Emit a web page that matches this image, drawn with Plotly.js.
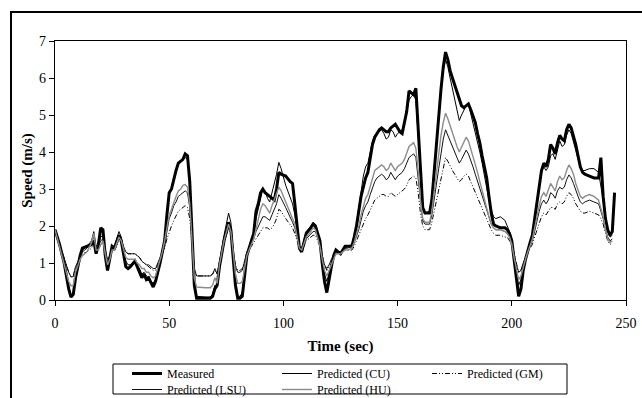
<!DOCTYPE html>
<html>
<head>
<meta charset="utf-8">
<script src="https://cdn.plot.ly/plotly-3.0.1.min.js"></script>
<style>
html,body{margin:0;padding:0;background:#fff;}
#chart{width:642px;height:398px;}
</style>
</head>
<body>
<div id="chart"></div>
<script>
// Time (sec)
var time = [0,2,4,6,7,8,9,11,12,14,16,17,18,19,20,21,22,23,24,25,26,27,28,29,30,31,32,33,35,36,37,38,39,40,41,42,43,44,45,46,47,48,49,50,51,52,53,54,55,56,57,58,59,60,61,62,64,66,68,69,70,71,72,74,76,77,78,79,80,81,82,84,86,87,88,89,90,91,92,93,94,95,96,97,98,99,101,103,104,105,106,107,108,109,110,112,113,114,115,116,117,118,119,120,121,122,123,124,125,126,127,128,130,131,132,133,134,135,136,137,138,139,140,141,142,143,144,145,146,147,148,149,150,151,152,153,154,155,156,157,158,159,160,161,162,164,165,166,167,168,169,170,171,172,173,174,175,176,177,178,179,180,181,182,183,184,185,186,187,188,189,190,191,192,193,195,197,198,199,200,201,202,203,204,205,206,207,208,209,210,211,212,213,214,215,216,217,218,219,220,221,222,223,224,225,226,227,228,229,230,231,232,234,236,238,239,240,241,242,243,244,245];

// Speed (m/s)
var measured = [1.9,1.5,1.0,0.3,0.08,0.15,0.6,1.2,1.4,1.45,1.5,1.6,1.25,1.5,1.95,1.9,1.2,0.8,1.1,1.45,1.4,1.6,1.75,1.6,1.2,0.9,0.85,0.9,1.05,0.9,0.75,0.6,0.7,0.55,0.6,0.45,0.35,0.5,0.8,1.0,1.3,1.6,2.3,2.9,3.0,3.3,3.5,3.7,3.75,3.8,3.95,3.9,3.2,1.8,0.4,0.05,0.05,0.05,0.05,0.1,0.3,0.4,0.9,1.6,2.1,1.9,1.2,0.4,0.05,0.05,0.1,1.2,1.6,1.8,2.4,2.6,2.9,3.0,2.9,2.85,2.8,2.75,2.7,3.0,3.45,3.4,3.35,3.2,3.15,2.6,2.0,1.4,1.3,1.6,1.8,1.95,2.05,2.0,1.8,1.6,1.0,0.5,0.2,0.6,0.9,1.2,1.35,1.3,1.25,1.35,1.45,1.45,1.45,1.7,2.0,2.4,2.8,3.05,3.3,3.45,3.8,4.2,4.4,4.5,4.6,4.65,4.6,4.55,4.55,4.65,4.7,4.75,4.65,4.55,4.5,4.8,5.1,5.65,5.6,5.55,5.72,4.6,3.3,2.5,2.35,2.35,2.7,3.5,4.2,4.9,5.7,6.3,6.7,6.5,6.2,6.0,5.8,5.6,5.4,5.25,5.2,5.25,5.3,5.15,5.0,4.8,4.5,4.25,3.9,3.6,3.3,2.8,2.35,2.05,2.0,1.95,1.95,1.9,1.8,1.6,1.1,0.5,0.1,0.3,0.8,1.1,1.35,1.55,1.75,2.2,2.7,3.1,3.5,3.7,3.6,3.8,4.2,4.1,3.95,4.25,4.45,4.35,4.3,4.6,4.75,4.65,4.45,4.2,3.9,3.6,3.45,3.4,3.35,3.3,3.3,3.85,2.8,2.2,1.9,1.75,1.85,2.9];

var predCU = [1.9,1.5,1.05,0.35,0.12,0.2,0.65,1.2,1.35,1.45,1.6,1.85,1.45,1.5,1.7,1.75,1.3,0.85,1.2,1.45,1.45,1.65,1.85,1.7,1.35,1.05,0.95,0.95,1.05,0.95,0.85,0.7,0.75,0.65,0.6,0.5,0.45,0.55,0.8,1.0,1.3,1.7,2.4,2.85,3.0,3.3,3.5,3.65,3.75,3.8,3.85,3.8,3.3,1.9,0.5,0.1,0.08,0.08,0.08,0.15,0.4,0.35,1.0,1.75,2.35,2.1,1.3,0.5,0.1,0.1,0.2,1.2,1.6,1.85,2.2,2.5,2.8,3.0,2.95,2.75,2.65,2.9,3.1,3.4,3.72,3.55,3.1,2.8,2.6,2.3,1.8,1.4,1.4,1.65,1.85,2.0,2.1,2.05,1.8,1.5,1.1,0.7,0.5,0.75,1.0,1.2,1.3,1.3,1.3,1.35,1.4,1.45,1.5,1.75,2.05,2.5,2.95,3.35,3.6,3.7,4.0,4.3,4.45,4.5,4.55,4.6,4.5,4.35,4.4,4.6,4.55,4.4,4.5,4.55,4.6,4.8,5.1,5.4,5.5,5.55,5.4,4.4,3.2,2.5,2.35,2.4,2.8,3.6,4.3,5.0,5.7,6.2,6.5,6.3,6.0,5.7,5.4,5.1,4.85,5.0,5.15,5.25,5.3,5.05,4.8,4.55,4.3,4.0,3.7,3.35,3.0,2.7,2.45,2.25,2.2,2.25,2.15,2.0,1.85,1.6,1.15,0.7,0.4,0.55,0.9,1.15,1.35,1.55,1.8,2.25,2.7,3.1,3.45,3.6,3.5,3.6,3.9,3.95,3.8,4.1,4.3,4.15,4.2,4.45,4.6,4.5,4.3,4.05,3.8,3.6,3.5,3.5,3.55,3.55,3.45,3.1,2.7,2.2,1.85,1.7,1.75,null];

var predGM = [1.9,1.5,1.15,0.75,0.63,0.65,0.9,1.15,1.25,1.3,1.4,1.55,1.4,1.35,1.5,1.55,1.3,1.05,1.15,1.35,1.35,1.45,1.6,1.55,1.4,1.3,1.25,1.25,1.25,1.2,1.15,1.05,1.0,0.95,0.9,0.85,0.8,0.8,0.95,1.05,1.25,1.4,1.65,1.85,2.0,2.15,2.3,2.4,2.45,2.5,2.55,2.5,2.2,1.5,0.85,0.65,0.65,0.65,0.65,0.7,0.8,0.7,1.0,1.5,1.95,1.8,1.35,0.95,0.8,0.8,0.85,1.25,1.45,1.55,1.65,1.75,1.85,1.95,1.95,1.95,1.9,1.95,2.05,2.2,2.45,2.4,2.2,2.05,1.95,1.8,1.6,1.4,1.35,1.45,1.6,1.7,1.75,1.75,1.6,1.45,1.2,0.95,0.8,0.9,1.05,1.15,1.25,1.25,1.25,1.3,1.35,1.35,1.35,1.45,1.6,1.75,1.95,2.1,2.2,2.3,2.45,2.6,2.7,2.75,2.8,2.85,2.85,2.8,2.8,2.9,2.85,2.8,2.85,2.9,2.95,3.0,3.1,3.25,3.3,3.35,3.3,2.9,2.35,2.0,1.9,1.9,2.1,2.4,2.7,3.0,3.35,3.65,3.85,3.75,3.6,3.5,3.4,3.3,3.2,3.25,3.35,3.4,3.35,3.2,3.05,2.9,2.75,2.6,2.45,2.3,2.15,2.0,1.9,1.8,1.75,1.75,1.7,1.7,1.6,1.5,1.25,0.95,0.75,0.8,1.0,1.15,1.3,1.4,1.5,1.7,1.9,2.1,2.25,2.35,2.3,2.4,2.5,2.5,2.45,2.6,2.65,2.6,2.65,2.8,2.9,2.85,2.75,2.6,2.5,2.4,2.35,2.35,2.4,2.35,2.3,2.2,2.05,1.8,1.6,1.5,1.55,null];

var predLSU = [1.9,1.5,1.15,0.75,0.62,0.63,0.9,1.2,1.3,1.4,1.55,1.7,1.45,1.45,1.6,1.65,1.35,1.1,1.2,1.45,1.45,1.55,1.7,1.65,1.45,1.3,1.25,1.25,1.25,1.2,1.15,1.05,1.0,0.95,0.95,0.9,0.85,0.85,1.0,1.1,1.3,1.5,1.9,2.2,2.35,2.55,2.65,2.8,2.85,2.9,2.95,2.9,2.5,1.65,0.85,0.65,0.65,0.65,0.65,0.7,0.85,0.7,1.05,1.6,2.0,1.85,1.4,0.9,0.75,0.75,0.8,1.3,1.55,1.65,1.85,2.0,2.15,2.25,2.25,2.2,2.15,2.3,2.45,2.6,2.85,2.75,2.5,2.25,2.1,1.95,1.7,1.45,1.4,1.5,1.65,1.8,1.85,1.85,1.7,1.5,1.2,0.95,0.85,0.95,1.1,1.2,1.3,1.3,1.3,1.35,1.4,1.4,1.45,1.55,1.7,1.9,2.15,2.4,2.55,2.65,2.85,3.05,3.2,3.3,3.35,3.4,3.35,3.25,3.3,3.45,3.35,3.25,3.35,3.4,3.45,3.55,3.7,3.85,3.9,3.95,3.85,3.3,2.6,2.15,2.05,2.05,2.3,2.75,3.15,3.55,3.95,4.35,4.6,4.45,4.3,4.15,4.0,3.85,3.7,3.8,3.95,4.05,3.95,3.8,3.6,3.4,3.2,3.0,2.8,2.6,2.4,2.2,2.05,1.95,1.9,1.9,1.85,1.8,1.7,1.55,1.25,0.95,0.75,0.8,1.0,1.15,1.3,1.45,1.6,1.85,2.15,2.4,2.6,2.7,2.6,2.7,2.9,2.85,2.75,2.95,3.05,3.0,3.05,3.25,3.38,3.3,3.15,2.95,2.8,2.65,2.6,2.65,2.7,2.65,2.6,2.4,2.2,1.9,1.7,1.6,1.65,null];

var predHU = [1.9,1.45,1.0,0.5,0.38,0.4,0.75,1.1,1.2,1.3,1.55,1.8,1.35,1.35,1.5,1.6,1.25,0.95,1.1,1.35,1.35,1.5,1.7,1.6,1.35,1.15,1.1,1.1,1.1,1.0,0.95,0.85,0.85,0.75,0.75,0.65,0.6,0.65,0.85,1.05,1.3,1.6,2.0,2.3,2.45,2.65,2.8,2.95,3.0,3.1,3.12,3.05,2.6,1.6,0.6,0.35,0.33,0.33,0.33,0.4,0.6,0.45,0.95,1.6,2.05,1.85,1.3,0.7,0.45,0.45,0.5,1.2,1.5,1.65,1.9,2.2,2.45,2.6,2.55,2.45,2.35,2.55,2.7,2.85,3.05,2.95,2.65,2.35,2.2,2.05,1.7,1.4,1.35,1.5,1.7,1.85,1.95,1.9,1.7,1.45,1.1,0.8,0.65,0.8,1.0,1.15,1.25,1.25,1.25,1.3,1.35,1.35,1.4,1.55,1.75,2.0,2.3,2.55,2.75,2.85,3.05,3.3,3.5,3.55,3.6,3.65,3.6,3.5,3.55,3.7,3.6,3.5,3.6,3.65,3.7,3.8,3.95,4.15,4.2,4.25,4.1,3.5,2.7,2.2,2.1,2.1,2.4,2.95,3.45,3.95,4.45,4.8,5.05,4.9,4.7,4.5,4.3,4.15,4.0,4.15,4.3,4.4,4.3,4.1,3.9,3.7,3.45,3.2,2.95,2.7,2.5,2.25,2.05,1.95,1.9,1.9,1.85,1.8,1.7,1.5,1.15,0.8,0.55,0.65,0.9,1.1,1.3,1.45,1.65,1.95,2.3,2.55,2.8,2.9,2.8,2.95,3.15,3.05,2.95,3.2,3.35,3.25,3.3,3.5,3.65,3.55,3.4,3.15,2.95,2.8,2.75,2.8,2.85,2.8,2.7,2.5,2.25,1.9,1.65,1.55,1.6,null];

// Labels
var seriesNames = ["Measured","Predicted (CU)","Predicted (GM)","Predicted (LSU)","Predicted (HU)"];
var xTicks = [0,50,100,150,200,250];
var yTicks = [0,1,2,3,4,5,6,7];
var xTitle = "Time (sec)";
var yTitle = "Speed (m/s)";

var serif = "'Liberation Serif', 'Times New Roman', serif";

var traces = [
  {x: time, y: measured, name: seriesNames[0], legend: "legend", mode: "lines",
   line: {color: "#000", width: 3}},
  {x: time, y: predCU, name: seriesNames[1], legend: "legend", mode: "lines",
   line: {color: "#000", width: 1}},
  {x: time, y: predGM, name: seriesNames[2], legend: "legend", mode: "lines",
   line: {color: "#000", width: 1, dash: "5px,2px,1px,2px,1px,2px"}},
  {x: time, y: predLSU, name: seriesNames[3], legend: "legend2", mode: "lines",
   line: {color: "#111", width: 1}},
  {x: time, y: predHU, name: seriesNames[4], legend: "legend2", mode: "lines",
   line: {color: "#8c8c8c", width: 1.4}}
];

// plot area: x 55..626, y 41..300 (px)
var W = 642, H = 398, L = 55, R = 16, T = 41, B = 98;
var pw = W - L - R, ph = H - T - B;
function px2x(p){ return (p - L) / pw; }
function py2y(p){ return (H - B - p) / ph; }

var legendCommon = {
  orientation: "h", xanchor: "left", yanchor: "top",
  entrywidth: 105, entrywidthmode: "pixels", itemwidth: 30,
  bgcolor: "rgba(0,0,0,0)", borderwidth: 0,
  font: {family: serif, size: 12, color: "#000"},
  traceorder: "normal"
};

var layout = {
  width: W, height: H,
  margin: {l: L, r: R, t: T, b: B, pad: 0, autoexpand: false},
  paper_bgcolor: "#fff", plot_bgcolor: "#fff",
  font: {family: serif, color: "#000"},
  showlegend: true,
  xaxis: {
    range: [0, 250], tickmode: "array", tickvals: xTicks,
    ticks: "outside", ticklen: 5, tickwidth: 1, tickcolor: "#000",
    showline: true, linecolor: "#000", linewidth: 1.3, mirror: true,
    showgrid: false, zeroline: false, automargin: false,
    tickfont: {family: serif, size: 14, color: "#000"},
    ticklabelstandoff: 5,
    title: {text: "<b>" + xTitle + "</b>", font: {family: serif, size: 15, color: "#000"}, standoff: 10}
  },
  yaxis: {
    range: [0, 7], tickmode: "array", tickvals: yTicks,
    ticks: "outside", ticklen: 5, tickwidth: 1, tickcolor: "#000",
    showline: true, linecolor: "#000", linewidth: 1.3, mirror: true,
    showgrid: false, zeroline: false, automargin: false,
    tickfont: {family: serif, size: 14, color: "#000"},
    title: {text: "<b>" + yTitle + "</b>", font: {family: serif, size: 15, color: "#000"}, standoff: 2}
  },
  legend: Object.assign({}, legendCommon, {x: px2x(127), y: py2y(359)}),
  legend2: Object.assign({}, legendCommon, {x: px2x(127), y: py2y(375)}),
  shapes: [
    // legend frame
    {type: "rect", xref: "paper", yref: "paper",
     x0: px2x(113), x1: px2x(567), y0: py2y(394), y1: py2y(364),
     line: {color: "#000", width: 1}, fillcolor: "rgba(0,0,0,0)"},
    // outer figure frame
    {type: "rect", xref: "paper", yref: "paper",
     x0: px2x(11), x1: px2x(660), y0: py2y(430), y1: py2y(12),
     line: {color: "#000", width: 2}, fillcolor: "rgba(0,0,0,0)"}
  ]
};

Plotly.newPlot("chart", traces, layout, {staticPlot: true, displayModeBar: false});
</script>
</body>
</html>
